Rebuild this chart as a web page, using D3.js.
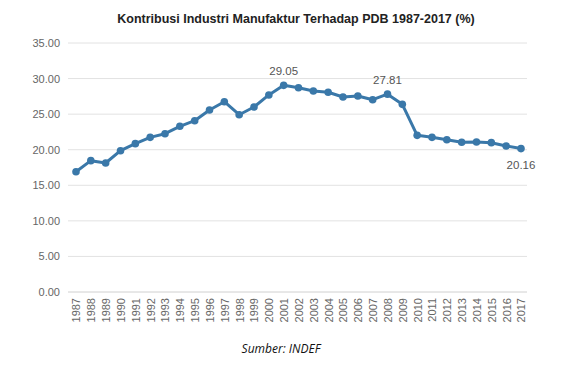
<!DOCTYPE html>
<html>
<head>
<meta charset="utf-8">
<script src="https://cdn.jsdelivr.net/npm/d3@7"></script>
<style>
  body { margin: 0; background: #fff; }
  svg { display: block; font-family: "Liberation Sans", Arial, sans-serif; }
</style>
</head>
<body>
<script>
// data
const years = d3.range(1987, 2018).map(String);
const values = [16.90, 18.46, 18.13, 19.86, 20.85, 21.74, 22.25, 23.29, 24.08, 25.58,
                26.75, 24.92, 26.00, 27.70, 29.05, 28.72, 28.25, 28.07, 27.41, 27.55,
                27.03, 27.81, 26.38, 22.02, 21.74, 21.41, 21.04, 21.08, 20.99, 20.52, 20.16];
const yTicks = [0, 5, 10, 15, 20, 25, 30, 35];
// which points carry a label, and where
const labelled = [
  { year: "2001", pos: "above" },
  { year: "2008", pos: "above" },
  { year: "2017", pos: "below" }
];

const data = years.map((y, i) => ({ year: y, value: values[i] }));

const svgWidth = 561;
const svgHeight = 384;
const margin = { top: 43, right: 34, bottom: 92, left: 68 };
const chartWidth = svgWidth - margin.left - margin.right;
const chartHeight = svgHeight - margin.top - margin.bottom;

const svg = d3.select("body")
  .append("svg")
  .attr("width", svgWidth)
  .attr("height", svgHeight);

const chartGroup = svg.append("g")
  .attr("transform", `translate(${margin.left},${margin.top})`);

const xScale = d3.scalePoint()
  .domain(years)
  .range([8, chartWidth - 6]);

const yScale = d3.scaleLinear()
  .domain([0, 35])
  .range([chartHeight, 0]);

// gridlines
chartGroup.append("g")
  .selectAll("line")
  .data(yTicks)
  .join("line")
  .attr("x1", 0)
  .attr("x2", chartWidth)
  .attr("y1", d => yScale(d))
  .attr("y2", d => yScale(d))
  .attr("stroke", d => d === 0 ? "#d0d0d0" : "#e2e2e2")
  .attr("stroke-width", 1);

// y axis
const yAxis = d3.axisLeft(yScale)
  .tickValues(yTicks)
  .tickFormat(d3.format(".2f"))
  .tickSize(0)
  .tickPadding(8);

chartGroup.append("g")
  .call(yAxis)
  .call(g => g.select(".domain").remove())
  .selectAll("text")
  .attr("fill", "#666")
  .style("font-size", "11px");

// x axis
const xAxis = d3.axisBottom(xScale).tickSize(0).tickPadding(0);

chartGroup.append("g")
  .attr("transform", `translate(0,${chartHeight})`)
  .call(xAxis)
  .call(g => g.select(".domain").remove())
  .selectAll("text")
  .attr("fill", "#666")
  .style("font-size", "11px")
  .attr("transform", "rotate(-90)")
  .attr("x", -6)
  .attr("y", 0)
  .attr("dy", "0.35em")
  .style("text-anchor", "end");

// line
const line = d3.line()
  .x(d => xScale(d.year))
  .y(d => yScale(d.value));

chartGroup.append("path")
  .datum(data)
  .attr("fill", "none")
  .attr("stroke", "#3a78a9")
  .attr("stroke-width", 3)
  .attr("stroke-linejoin", "round")
  .attr("d", line);

chartGroup.selectAll("circle")
  .data(data)
  .join("circle")
  .attr("cx", d => xScale(d.year))
  .attr("cy", d => yScale(d.value))
  .attr("r", 3.8)
  .attr("fill", "#3a78a9");

// value labels
chartGroup.selectAll(".val")
  .data(labelled)
  .join("text")
  .attr("class", "val")
  .attr("x", d => xScale(d.year))
  .attr("y", d => {
    const v = data.find(p => p.year === d.year).value;
    return d.pos === "above" ? yScale(v) - 10 : yScale(v) + 20;
  })
  .attr("text-anchor", "middle")
  .attr("fill", "#555")
  .style("font-size", "11.5px")
  .text(d => d3.format(".2f")(data.find(p => p.year === d.year).value));

// title
svg.append("text")
  .attr("x", 296)
  .attr("y", 23)
  .attr("text-anchor", "middle")
  .attr("fill", "#222")
  .style("font-size", "12.5px")
  .style("font-weight", "bold")
  .text("Kontribusi Industri Manufaktur Terhadap PDB 1987-2017 (%)");

// source
svg.append("text")
  .attr("x", 281)
  .attr("y", 353)
  .attr("text-anchor", "middle")
  .attr("fill", "#111")
  .style("font-family", "'Open Sans', sans-serif")
  .style("font-style", "italic")
  .style("font-size", "12px")
  .text("Sumber: INDEF");
</script>
</body>
</html>
